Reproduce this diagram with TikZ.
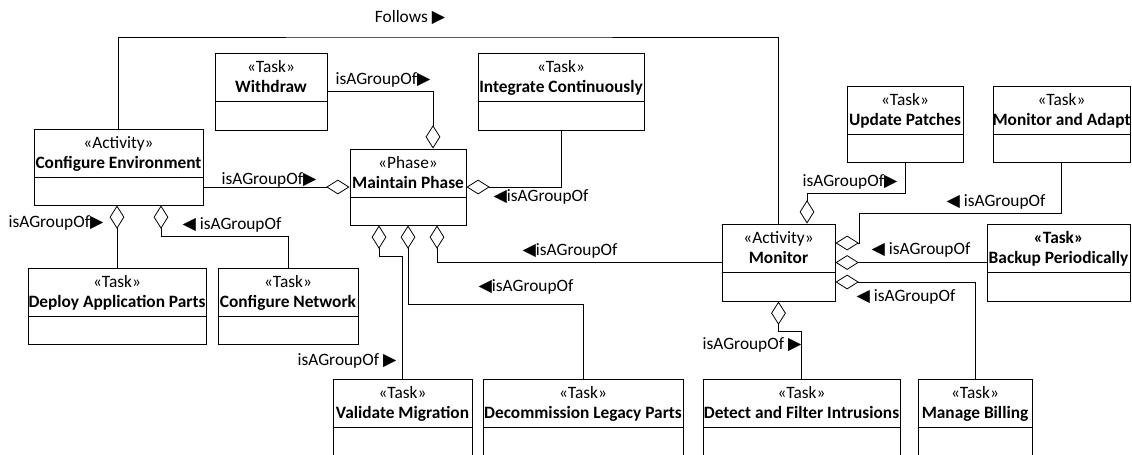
\documentclass[tikz,border=0pt]{standalone}
\usepackage{fontspec}
\setmainfont{Carlito}
\newfontfamily\symfont[Scale=1.0]{DejaVu Sans}
\usetikzlibrary{positioning,arrows.meta,calc}

\newcommand{\rarr}{{\symfont ▶}}
\newcommand{\larr}{{\symfont ◀}}

\tikzset{
  umlbox/.style={draw, line width=0.7pt, inner sep=0pt},
  stereo/.style={font=\fontsize{13}{15}\selectfont, anchor=base, inner sep=0pt},
  umltitle/.style={font=\fontsize{13}{15}\selectfont\bfseries, anchor=base, inner sep=0pt},
  rel/.style={font=\fontsize{13}{15}\selectfont, inner sep=1pt},
  agg/.style={draw, line width=0.6pt, {Diamond[open, length=17.5pt, width=11pt]}-},
}

% class box: name, left, top, right, bottom, stereotype, title
\newcommand{\umlclass}[7]{%
  \node[umlbox, minimum width={(#4-#2)*0.75pt}, minimum height={(#5-#3)*0.75pt}] (#1) at ({(#2+#4)/2},{(#3+#5)/2}) {};
  \node[stereo] (#1-s) at ({(#2+#4)/2},{#3+19}) {#6};
  \node[umltitle] (#1-t) at ({(#2+#4)/2},{#3+39}) {#7};
  \draw[line width=0.7pt] ({#2},{#3+48}) -- ({#4},{#3+48});
}

\begin{document}
\begin{tikzpicture}[x=0.75pt, y=-0.75pt]
  \useasboundingbox (0,0) rectangle (1132,454);
  \clip (0,0) rectangle (1132,454);
  % the boxes
  \umlclass{ce}{34}{129}{203}{205}{«Activity»}{Configure Environment}
  \umlclass{wd}{215}{53}{327}{130}{«Task»}{Withdraw}
  \umlclass{ic}{478}{53}{644}{130}{«Task»}{Integrate Continuously}
  \umlclass{mp}{350}{149}{466}{225}{«Phase»}{Maintain Phase}
  \umlclass{dep}{28}{268}{206}{344}{«Task»}{Deploy Application Parts}
  \umlclass{cn}{218}{268}{358}{344}{«Task»}{Configure Network}
  \umlclass{vm}{333}{379}{472}{458}{«Task»}{Validate Migration}
  \umlclass{dl}{483}{379}{683}{458}{«Task»}{Decommission Legacy Parts}
  \umlclass{df}{703}{379}{900}{458}{«Task»}{Detect and Filter Intrusions}
  \umlclass{mb}{918}{379}{1032}{458}{«Task»}{Manage Billing}
  \umlclass{mon}{722}{224}{835}{301}{«Activity»}{Monitor}
  \umlclass{up}{847}{86}{963}{162}{«Task»}{Update Patches}
  \umlclass{ma}{993}{86}{1130}{162}{«Task»}{Monitor and Adapt}
  \umlclass{bp}{987}{224}{1130}{301}{\bfseries«Task»}{Backup Periodically}

  % follows
  \coordinate (fl) at (450,37);
  \draw[line width=0.6pt] (ce.north) |- (fl) -| (mon.north);
  \node[rel] (l-fl) at (410,18) {Follows \rarr};

  % groups of configure environment and maintain phase
  \draw[agg] (mp.west) -- (mp.west -| ce.east);
  \draw[agg] (ce.south -| dep.north) -- (dep.north);
  \draw[agg] ($(ce.south)+(42.5,0)$) -- ++(0,31) -| (cn.north);
  \draw[agg] ($(mp.north)+(25,0)$) |- (wd.east);
  \draw[agg] (mp.east) -| (ic.south);
  \draw[agg] ($(mp.south)+(-29,0)$) -- ++(0,31) -| (vm.north);
  \draw[agg] (mp.south) -- ++(0,79) -| (dl.north);
  \draw[agg] ($(mp.south)+(29,0)$) |- (mon.west);

  % groups of monitor
  \draw[agg] ($(mon.north)+(28.5,0)$) -- ++(0,-30) -| (up.south);
  \draw[agg] ($(mon.east)+(0,-19.5)$) -- ++(24,0) -- ++(0,-30) -| (ma.south);
  \draw[agg] (mon.east) -- (bp.west);
  \draw[agg] ($(mon.east)+(0,19.5)$) -| (mb.north);
  \draw[agg] (mon.south) -- ++(0,30) -| (df.north);

  % labels
  \node[rel] (l-ce) at (269,180) {isAGroupOf\rarr};
  \node[rel] (l-dep) at (56,223) {isAGroupOf\rarr};
  \node[rel] (l-cn) at (232,225) {\larr\ isAGroupOf};
  \node[rel] (l-wd) at (383,80) {isAGroupOf\rarr};
  \node[rel] (l-ic) at (541,197) {\larr isAGroupOf};
  \node[rel] (l-vm) at (347,361) {isAGroupOf \rarr};
  \node[rel] (l-dl) at (526,287) {\larr isAGroupOf};
  \node[rel] (l-mon) at (570,251) {\larr isAGroupOf};
  \node[rel] (l-up) at (850,182) {isAGroupOf\rarr};
  \node[rel] (l-ma) at (996,202) {\larr\ isAGroupOf};
  \node[rel] (l-bp) at (921,250) {\larr\ isAGroupOf};
  \node[rel] (l-mb) at (906,297) {\larr\ isAGroupOf};
  \node[rel] (l-df) at (752,345) {isAGroupOf \rarr};
\end{tikzpicture}
\end{document}
